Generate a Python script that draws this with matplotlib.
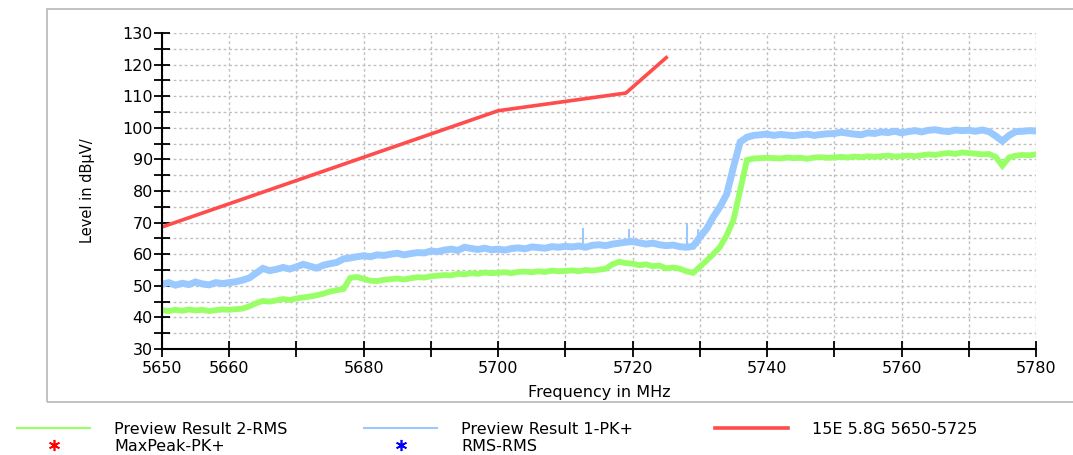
import matplotlib
matplotlib.use("Agg")
import matplotlib.pyplot as plt
from matplotlib.lines import Line2D
from matplotlib.patches import Rectangle
from matplotlib.ticker import MultipleLocator, FixedLocator, FixedFormatter

plt.rcParams['font.family'] = ['DejaVu Sans']

# frequency grid for the two measured traces (1 MHz steps)
freq = list(range(5650, 5781))

pk_level = [
    50.5, 51.0, 50.2, 50.8, 50.4, 51.2, 50.6, 50.3, 51.0, 50.7,
    51.0, 51.3, 51.8, 52.5, 54.0, 55.5, 54.8, 55.2, 55.8, 55.3,
    56.0, 56.8, 56.2, 55.6, 56.5, 57.0, 57.4, 58.5, 58.8, 59.2,
    59.5, 59.2, 59.8, 59.6, 60.0, 60.3, 59.8, 60.2, 60.5, 60.4,
    61.0, 60.8, 61.3, 61.6, 61.2, 62.2, 61.8, 61.5, 61.9, 61.4,
    61.6, 61.3, 61.8, 62.0, 61.7, 62.3, 62.1, 61.9, 62.4, 62.2,
    62.5, 62.3, 62.6, 62.2, 62.8, 63.0, 62.7, 63.2, 63.5, 63.8,
    64.0, 63.6, 63.2, 63.5, 63.0, 62.7, 62.9, 62.4, 62.2, 62.5,
    65.4, 68.0, 71.8, 75.0, 79.0, 87.6, 95.5, 97.0, 97.6, 97.8,
    98.0, 97.6, 97.9, 97.7, 97.5, 97.8, 98.0, 97.6, 97.9, 98.1,
    98.2, 98.6, 98.3, 98.0, 97.8, 98.4, 98.2, 98.7, 98.5, 98.9,
    98.4, 98.8, 99.1, 98.7, 99.2, 99.4, 99.0, 98.8, 99.3, 99.1,
    99.2, 98.9, 99.3, 98.8, 97.4, 95.8, 97.6, 98.8, 98.9, 99.1,
    99.0,
]

rms_level = [
    42.3, 42.0, 42.4, 42.1, 42.5, 42.2, 42.4, 42.0, 42.3, 42.5,
    42.4, 42.6, 42.8, 43.5, 44.5, 45.2, 45.0, 45.4, 45.8, 45.5,
    46.0, 46.3, 46.6, 47.0, 47.5, 48.2, 48.6, 49.0, 52.5, 52.8,
    52.2, 51.6, 51.5, 51.9, 52.1, 52.3, 52.0, 52.4, 52.7, 52.6,
    53.0, 53.2, 53.4, 53.3, 53.8, 53.6, 54.0, 53.8, 54.2, 54.0,
    54.1, 54.3, 54.0, 54.4, 54.5, 54.3, 54.6, 54.4, 54.8, 54.6,
    54.7, 54.9, 54.6, 55.0, 54.8, 55.1, 55.4, 56.8, 57.6, 57.2,
    57.0, 56.5, 56.8, 56.2, 56.4, 55.5, 55.8, 55.4, 54.6, 54.1,
    56.0, 58.0, 60.0, 62.3, 66.0, 70.8, 80.3, 89.8, 90.3, 90.4,
    90.5, 90.4, 90.3, 90.6, 90.4, 90.5, 90.2, 90.6, 90.7, 90.5,
    90.6, 90.8, 90.6, 90.9, 90.7, 91.0, 90.8, 91.0, 91.2, 90.9,
    91.0, 91.2, 91.0, 91.3, 91.6, 91.4, 91.8, 92.0, 91.7, 92.2,
    92.0, 91.8, 91.6, 91.7, 90.8, 88.0, 90.6, 91.2, 91.4, 91.3,
    91.6,
]

# narrow peaks sticking out of the PK+ trace
spike_freq = [5712.6, 5719.5, 5728.1, 5729.7]
spike_base = [62.2, 63.8, 62.4, 62.5]
spike_top = [68.2, 68.0, 69.9, 68.0]

# limit line 15E 5.8G 5650-5725
limit_freq = [5650, 5700, 5719, 5725]
limit_level = [68.6, 105.4, 111.0, 122.2]

x_ticks = list(range(5650, 5781, 10))
x_labels = ['5650', '5660', '', '5680', '', '5700', '', '5720', '', '5740', '', '5760', '', '5780']

green = '#99ff66'
blue = '#99c9ff'
red = '#ff4c4c'

fig = plt.figure(figsize=(10.73, 4.55), dpi=100)
ax = fig.add_axes([162 / 1073, 1 - 349 / 455, (1036 - 162) / 1073, (349 - 33) / 455])

# grey outer frame of the diagram
fig.patches.append(Rectangle((47 / 1073, 1 - 402 / 455), 1.1, (402 - 9) / 455,
                             transform=fig.transFigure, fill=False,
                             edgecolor='#b8b8b8', lw=1.2, zorder=0))

ax.plot(freq, rms_level, color=green, lw=4.2, solid_joinstyle='miter')
ax.plot(freq, pk_level, color=blue, lw=5.0, solid_joinstyle='miter')
ax.vlines(spike_freq, spike_base, spike_top, color=blue, lw=1.5)
ax.plot(limit_freq, limit_level, color=red, lw=2.6)

ax.set_xlim(5650, 5780)
ax.set_ylim(30, 130)
ax.xaxis.set_major_locator(FixedLocator(x_ticks))
ax.xaxis.set_major_formatter(FixedFormatter(x_labels))
ax.yaxis.set_major_locator(MultipleLocator(10))
ax.yaxis.set_minor_locator(MultipleLocator(5))

ax.tick_params(axis='both', which='both', direction='inout', length=11, width=1.3,
               colors='black', labelsize=11.5)
ax.tick_params(axis='y', which='both', pad=1)
ax.tick_params(axis='x', pad=3)

ax.spines['top'].set_visible(False)
ax.spines['right'].set_visible(False)
ax.spines['left'].set_linewidth(1.5)
ax.spines['bottom'].set_linewidth(1.5)

ax.grid(True, which='major', axis='x', color='#c0c0c0', linestyle=(0, (2, 2)), lw=1)
ax.grid(True, which='both', axis='y', color='#c0c0c0', linestyle=(0, (2, 2)), lw=1)
ax.set_axisbelow(True)

ax.set_xlabel('Frequency in MHz', fontsize=11.5)
ax.xaxis.set_label_coords(0.5, -0.115)
ax.set_ylabel('Level in dBµV/', fontsize=10.5)
ax.yaxis.set_label_coords(-0.077, 0.5)

# legend, three columns as in the original report
h_rms = Line2D([], [], color=green, lw=1.5)
h_pk = Line2D([], [], color=blue, lw=1.5)
h_lim = Line2D([], [], color=red, lw=2.6)
h_maxpk = Line2D([], [], color='red', lw=0, marker=(6, 2, 0), markersize=8, markeredgewidth=1.2)
h_rmspt = Line2D([], [], color='blue', lw=0, marker=(6, 2, 0), markersize=8, markeredgewidth=1.2)

leg_kw = dict(frameon=False, fontsize=11.5, handlelength=4.6, handletextpad=1.5,
              borderpad=0, borderaxespad=0, labelspacing=0.12, loc='upper left', numpoints=1)
l1 = fig.legend([h_rms, h_maxpk], ['Preview Result 2-RMS', 'MaxPeak-PK+'],
                bbox_to_anchor=(17 / 1073, 1 - 422 / 455), **leg_kw)
l2 = fig.legend([h_pk, h_rmspt], ['Preview Result 1-PK+', 'RMS-RMS'],
                bbox_to_anchor=(364 / 1073, 1 - 422 / 455), **leg_kw)
l3 = fig.legend([h_lim], ['15E 5.8G 5650-5725'],
                bbox_to_anchor=(715 / 1073, 1 - 422 / 455), **leg_kw)

fig.savefig('out.png', dpi=100)
